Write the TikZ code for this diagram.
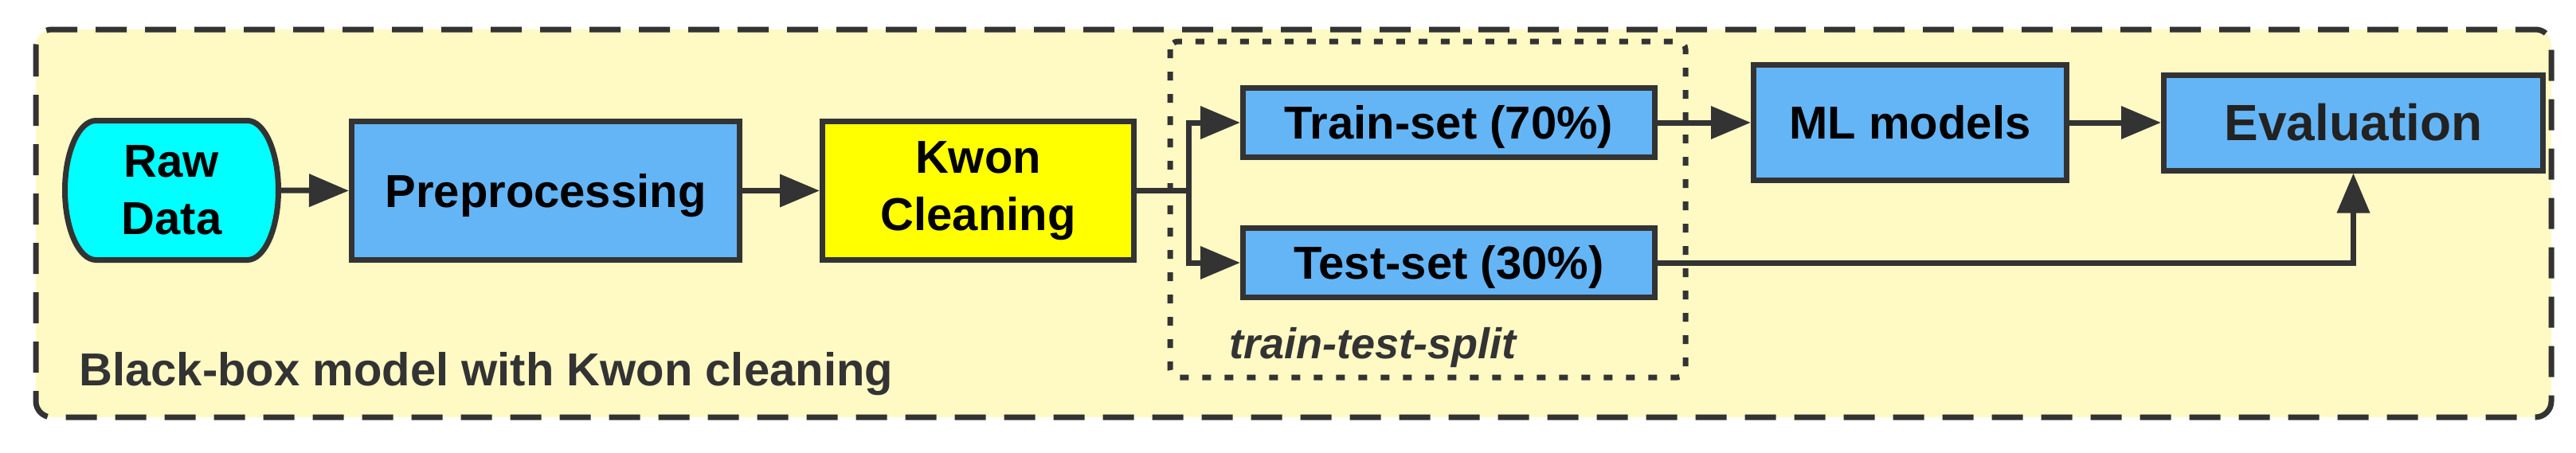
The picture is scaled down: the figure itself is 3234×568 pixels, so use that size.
\documentclass[tikz,border=0pt]{standalone}
\usepackage{fontspec}
\setmainfont{Liberation Sans}
\usetikzlibrary{arrows.meta}
\definecolor{dark}{HTML}{333333}
\definecolor{bgyellow}{HTML}{FFF9C4}
\definecolor{boxblue}{HTML}{64B5F6}
\definecolor{rawcyan}{HTML}{00FFFF}
\definecolor{kwonyellow}{HTML}{FFFF00}
\definecolor{evaltext}{HTML}{222222}
\tikzset{
  mainfont/.style={font=\bfseries\fontsize{29}{36}\selectfont},
  box/.style={draw=dark, line width=3.5pt, inner sep=0pt, mainfont, align=center},
  bluebox/.style={box, fill=boxblue},
  single/.style={text height=20.8pt, text depth=0pt},
  flow/.style={draw=dark, line width=3.5pt, -{Triangle[length=25pt,width=20pt]}},
  outerbox/.style={draw=dark, fill=bgyellow, line width=3.5pt, rounded corners=10pt, dash pattern=on 19.5pt off 11.5pt},
  splitbox/.style={draw=dark, line width=3.5pt, rounded corners=5pt, dash pattern=on 5.5pt off 8.5pt},
  grouplabel/.style={inner sep=0pt, anchor=base west, text=dark}
}
\begin{document}
\begin{tikzpicture}[x=0.5pt,y=-0.5pt]
\useasboundingbox (0,0) rectangle (3234,568);
\fill[white] (0,0) rectangle (3234,568);
% outer group
\draw[outerbox] (45,37) rectangle (3203,524);
\node[grouplabel, mainfont] (blacklabel) at (99,484) {Black-box model with Kwon cleaning};
% train-test-split group
\draw[splitbox] (1469,52) rectangle (2116,474);
\node[grouplabel, font=\bfseries\itshape\fontsize{27}{32}\selectfont] (splitlabel) at (1543,450) {train-test-split};
% Raw Data shape
\draw[draw=dark, fill=rawcyan, line width=3.5pt]
  (120.5,151.5) -- (310.5,151.5)
  arc[start angle=90, end angle=-90, x radius=19.5pt, y radius=43.75pt]
  -- (120.5,326.5)
  arc[start angle=270, end angle=90, x radius=19.5pt, y radius=43.75pt] -- cycle;
\node[mainfont, align=center, inner sep=0pt, minimum width=134pt, minimum height=87.5pt] (raw) at (215.5,239) {Raw\\Data};
% boxes
\node[bluebox, single, minimum width=243.5pt, minimum height=87pt] (prep) at (685,239.5) {Preprocessing};
\node[box, fill=kwonyellow, minimum width=195.5pt, minimum height=87pt] (kwon) at (1228,239.5) {Kwon\\Cleaning};
\node[bluebox, single, minimum width=258.5pt, minimum height=43.5pt] (train) at (1819,154) {Train-set (70\%)};
\node[bluebox, single, minimum width=258.5pt, minimum height=43.5pt] (test) at (1819,330) {Test-set (30\%)};
\node[bluebox, single, minimum width=196.5pt, minimum height=72.5pt] (ml) at (2398,154) {ML models};
\node[bluebox, text height=22.9pt, text depth=0pt, text=evaltext, font=\bfseries\fontsize{32}{38}\selectfont, minimum width=238pt, minimum height=60pt] (eval) at (2954.5,154) {Evaluation};
% connectors
\coordinate (split) at (1492,239.5);
\draw[flow] (raw.east) -- (prep.west);
\draw[flow] (prep.east) -- (kwon.west);
\draw[flow, -] (kwon.east) -- (split);
\draw[flow] (split) |- (train.west);
\draw[flow] (split) |- (test.west);
\draw[flow] (train.east) -- (ml.west);
\draw[flow] (ml.east) -- (eval.west);
\draw[flow] (test.east) -| (eval.south);
\end{tikzpicture}
\end{document}
